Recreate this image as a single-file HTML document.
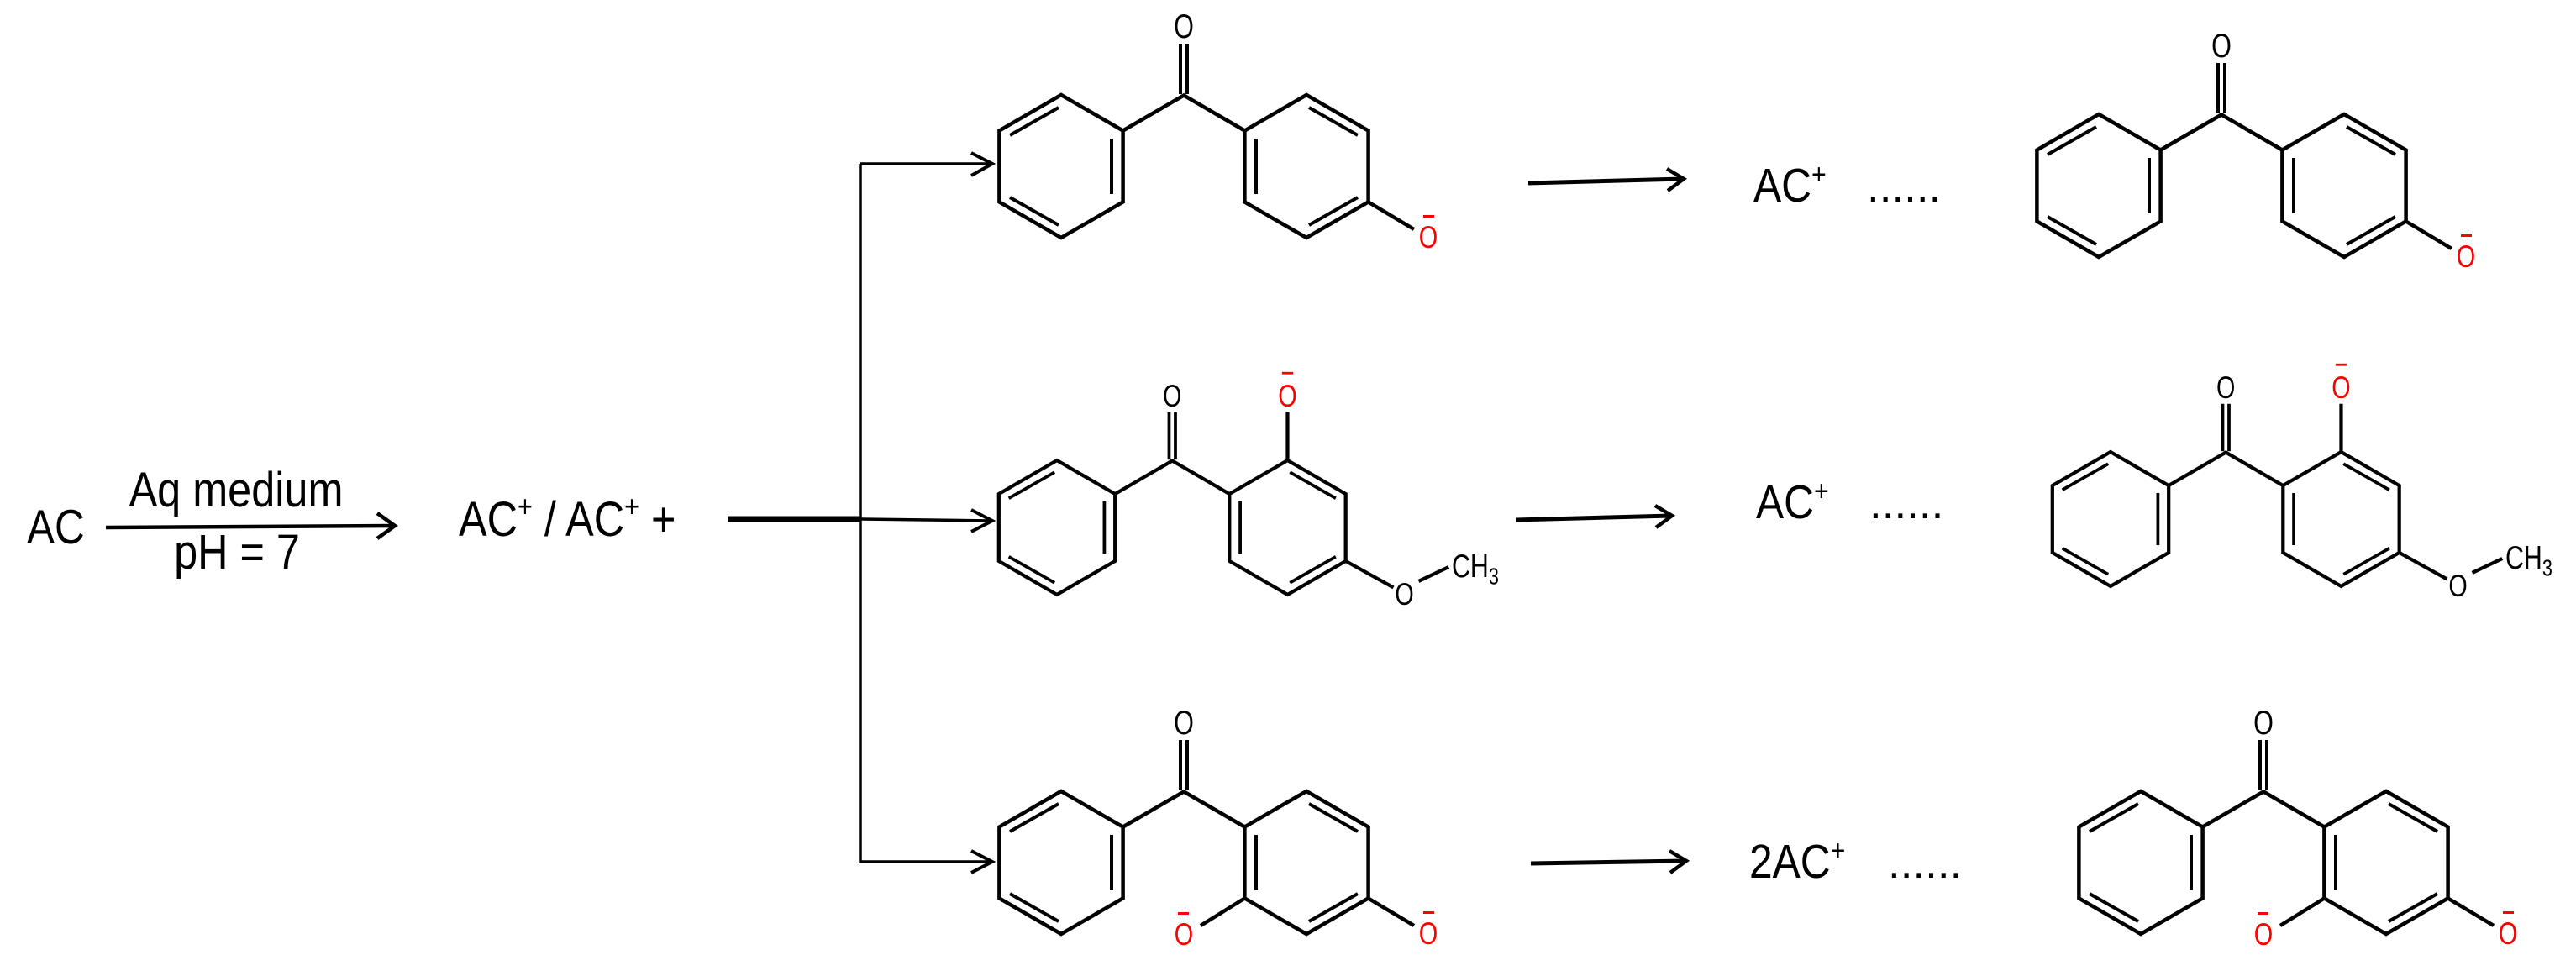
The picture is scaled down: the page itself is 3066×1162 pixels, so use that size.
<!DOCTYPE html>
<html><head><meta charset="utf-8"><style>
html,body{margin:0;padding:0;background:#fff;}
svg{display:block;}
text{font-family:"Liberation Sans",sans-serif;}
</style></head><body>
<svg width="3066" height="1162" viewBox="0 0 3066 1162" xmlns="http://www.w3.org/2000/svg">
<defs>
  <g id="benz">
    <polygon points="0,-85 73.6,-42.5 73.6,42.5 0,85 -73.6,42.5 -73.6,-42.5" fill="none" stroke="#000" stroke-width="4.5" stroke-linejoin="miter"/>
    <line x1="-3" y1="-70" x2="-61" y2="-37" stroke="#000" stroke-width="4"/>
    <line x1="60" y1="-33" x2="60" y2="33" stroke="#000" stroke-width="4"/>
    <line x1="-3" y1="70" x2="-61" y2="37" stroke="#000" stroke-width="4"/>
    <polyline points="73.6,-42.5 146,-84.5 218.4,-42.5" fill="none" stroke="#000" stroke-width="4.5"/>
    <line x1="142" y1="-86" x2="142" y2="-146" stroke="#000" stroke-width="4"/>
    <line x1="150" y1="-86" x2="150" y2="-146" stroke="#000" stroke-width="4"/>
    <polygon points="292,-85 365.6,-42.5 365.6,42.5 292,85 218.4,42.5 218.4,-42.5" fill="none" stroke="#000" stroke-width="4.5"/>
    <line x1="295" y1="-70" x2="353" y2="-37" stroke="#000" stroke-width="4"/>
    <line x1="232" y1="-33" x2="232" y2="33" stroke="#000" stroke-width="4"/>
    <line x1="295" y1="70" x2="353" y2="37" stroke="#000" stroke-width="4"/>
  </g>
  <g id="oC"><text transform="translate(146,-153) scale(0.85,1.1)" font-size="36" text-anchor="middle" fill="#000">O</text></g>
  <g id="paraO">
    <line x1="365.6" y1="42.5" x2="420" y2="75" stroke="#000" stroke-width="4.5"/>
    <text transform="translate(437,97) scale(0.85,1.1)" font-size="34" text-anchor="middle" fill="#f00">O</text>
    <rect x="431" y="58" width="13" height="3" fill="#f00"/>
  </g>
  <g id="mol1"><use href="#benz"/><use href="#oC"/><use href="#paraO"/></g>
  <g id="mol2">
    <use href="#benz"/><use href="#oC"/>
    <line x1="292" y1="-85" x2="292" y2="-146" stroke="#000" stroke-width="4.5"/>
    <text transform="translate(292,-153) scale(0.85,1.1)" font-size="36" text-anchor="middle" fill="#f00">O</text>
    <rect x="285" y="-197" width="14" height="3" fill="#f00"/>
    <line x1="365.6" y1="42.5" x2="426" y2="76" stroke="#000" stroke-width="4.5"/>
    <text transform="translate(440,98) scale(0.85,1.1)" font-size="36" text-anchor="middle" fill="#000">O</text>
    <line x1="458" y1="68" x2="496" y2="50" stroke="#000" stroke-width="4.5"/>
    <text transform="translate(500,63) scale(0.85,1.1)" font-size="38" fill="#000">CH<tspan font-size="27" dy="8">3</tspan></text>
  </g>
  <g id="mol3">
    <use href="#benz"/><use href="#oC"/><use href="#paraO"/>
    <line x1="218.4" y1="42.5" x2="166" y2="75" stroke="#000" stroke-width="4.5"/>
    <text transform="translate(146,98) scale(0.85,1.1)" font-size="34" text-anchor="middle" fill="#f00">O</text>
    <rect x="139" y="59" width="13" height="3" fill="#f00"/>
  </g>
</defs>

<text transform="translate(32,647) scale(0.9,1.05)" font-size="55">AC</text>
<text transform="translate(281,603) scale(0.9,1.05)" font-size="56" text-anchor="middle">Aq medium</text>
<text transform="translate(282,677) scale(0.9,1.05)" font-size="56" text-anchor="middle">pH = 7</text>
<line x1="126" y1="628" x2="470" y2="626" stroke="#000" stroke-width="4.5"/>
<polyline points="449,611 470,626 449,641" fill="none" stroke="#000" stroke-width="4.5"/>
<text transform="translate(546,638) scale(0.9,1.05)" font-size="56">AC<tspan font-size="34" dy="-22">+</tspan><tspan dy="22"> / AC</tspan><tspan font-size="34" dy="-22">+</tspan><tspan dy="22">  +</tspan></text>

<line x1="866" y1="618" x2="1025" y2="618" stroke="#000" stroke-width="7"/>
<line x1="1025" y1="618" x2="1180" y2="620" stroke="#000" stroke-width="3.5"/>
<line x1="1024" y1="195" x2="1024" y2="1027" stroke="#000" stroke-width="3.5"/>
<line x1="1023" y1="195" x2="1180" y2="195" stroke="#000" stroke-width="3.5"/>
<line x1="1023" y1="1026" x2="1180" y2="1026" stroke="#000" stroke-width="3.5"/>
<polyline points="1156,182 1181,195 1156,209" fill="none" stroke="#000" stroke-width="4"/>
<polyline points="1156,607 1181,620 1156,633" fill="none" stroke="#000" stroke-width="4"/>
<polyline points="1156,1013 1181,1026 1156,1039" fill="none" stroke="#000" stroke-width="4"/>

<g transform="translate(1263,198)"><use href="#mol1"/></g>
<g transform="translate(1258,628) scale(0.94)"><use href="#mol2"/></g>
<g transform="translate(1263,1027)"><use href="#mol3"/></g>

<line x1="1819" y1="218" x2="2003" y2="213" stroke="#000" stroke-width="5"/>
<polyline points="1984,201 2004,213 1985,227" fill="none" stroke="#000" stroke-width="4.5"/>
<line x1="1804" y1="619" x2="1989" y2="614" stroke="#000" stroke-width="5"/>
<polyline points="1970,602 1990,614 1971,628" fill="none" stroke="#000" stroke-width="4.5"/>
<line x1="1822" y1="1028" x2="2006" y2="1025" stroke="#000" stroke-width="5"/>
<polyline points="1987,1013 2007,1025 1988,1039" fill="none" stroke="#000" stroke-width="4.5"/>

<text transform="translate(2087,240) scale(0.92,1.05)" font-size="54">AC<tspan font-size="33" dy="-20">+</tspan></text>
<text x="2222" y="240" font-size="53">......</text>
<text transform="translate(2090,617) scale(0.92,1.05)" font-size="54">AC<tspan font-size="33" dy="-20">+</tspan></text>
<text x="2225" y="617" font-size="53">......</text>
<text transform="translate(2082,1045) scale(0.92,1.05)" font-size="54">2AC<tspan font-size="33" dy="-20">+</tspan></text>
<text x="2247" y="1045" font-size="53">......</text>

<g transform="translate(2498,221)"><use href="#mol1"/></g>
<g transform="translate(2512,618) scale(0.94)"><use href="#mol2"/></g>
<g transform="translate(2548,1027)"><use href="#mol3"/></g>
</svg>
</body></html>
